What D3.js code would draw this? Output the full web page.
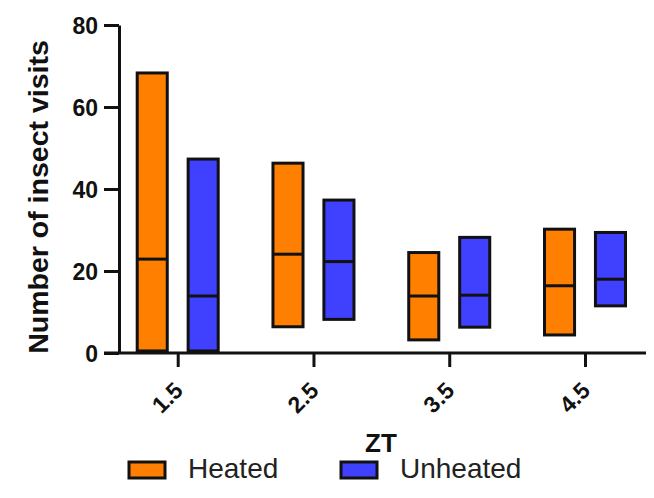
<!DOCTYPE html>
<html>
<head>
<meta charset="utf-8">
<script src="https://cdn.jsdelivr.net/npm/d3@7"></script>
<style>
  html, body { margin: 0; padding: 0; background: #fff; }
  svg { display: block; }
  text { font-family: "Liberation Sans", Arial, sans-serif; }
</style>
</head>
<body>
<svg id="chart" width="654" height="498"></svg>
<script>
// Floating bars: range (min to max) of insect visits per ZT, with the median marked
const categories = ["1.5", "2.5", "3.5", "4.5"];
const seriesNames = ["Heated", "Unheated"];
const heatedMin = [0.5, 6.4, 3.2, 4.4];
const heatedMax = [68.3, 46.3, 24.5, 30.2];
const heatedMedian = [22.9, 24.1, 13.9, 16.4];
const unheatedMin = [0.5, 8.2, 6.3, 11.5];
const unheatedMax = [47.3, 37.3, 28.2, 29.4];
const unheatedMedian = [13.9, 22.3, 14.1, 18.0];
const yTicks = [0, 20, 40, 60, 80];
const colors = { Heated: "#ff8000", Unheated: "#4040ff" };

const svg = d3.select("#chart");
const axisX = 119, baseY = 353, topY = 25, rightX = 646;

const y = d3.scaleLinear().domain([0, 80]).range([baseY, topY]);
const x = d3.scalePoint().domain(categories).range([177.7, 585]);
const sub = d3.scaleBand().domain(seriesNames).range([-40.5, 40.5]).paddingInner(0.41);

const rows = [];
categories.forEach((c, i) => {
  rows.push({ cat: c, series: "Heated", lo: heatedMin[i], hi: heatedMax[i], mid: heatedMedian[i] });
  rows.push({ cat: c, series: "Unheated", lo: unheatedMin[i], hi: unheatedMax[i], mid: unheatedMedian[i] });
});

// bars
const g = svg.append("g");
g.selectAll("rect.bar").data(rows).join("rect")
  .attr("class", "bar")
  .attr("x", d => x(d.cat) + sub(d.series))
  .attr("width", sub.bandwidth())
  .attr("y", d => y(d.hi))
  .attr("height", d => y(d.lo) - y(d.hi))
  .attr("fill", d => colors[d.series])
  .attr("stroke", "#111")
  .attr("stroke-width", 3);

g.selectAll("line.mid").data(rows).join("line")
  .attr("class", "mid")
  .attr("x1", d => x(d.cat) + sub(d.series))
  .attr("x2", d => x(d.cat) + sub(d.series) + sub.bandwidth())
  .attr("y1", d => y(d.mid))
  .attr("y2", d => y(d.mid))
  .attr("stroke", "#111")
  .attr("stroke-width", 3);

// y axis
const yAxis = svg.append("g")
  .attr("transform", `translate(${axisX},0)`)
  .call(d3.axisLeft(y).tickValues(yTicks).tickSize(15).tickSizeOuter(0).tickPadding(6));
yAxis.select(".domain").attr("stroke", "#111").attr("stroke-width", 3);
yAxis.selectAll(".tick line").attr("stroke", "#111").attr("stroke-width", 3);
yAxis.selectAll(".tick text")
  .attr("font-size", 23).attr("font-weight", "bold").attr("fill", "#111")
  .attr("dy", "0.36em");

// x axis
const xAxis = svg.append("g")
  .attr("transform", `translate(0,${baseY})`)
  .call(d3.axisBottom(x).tickSize(14).tickSizeOuter(0));
xAxis.select(".domain").remove();
xAxis.append("line")
  .attr("x1", axisX - 15).attr("x2", rightX)
  .attr("stroke", "#111").attr("stroke-width", 3);
xAxis.selectAll(".tick line").attr("stroke", "#111").attr("stroke-width", 3);
xAxis.selectAll(".tick text")
  .attr("font-size", 23).attr("font-weight", "bold").attr("fill", "#111")
  .attr("y", 0).attr("dy", 0)
  .attr("text-anchor", "end")
  .attr("transform", "translate(6,39) rotate(-45)");

// axis titles
svg.append("text")
  .attr("transform", `translate(48,197) rotate(-90)`)
  .attr("text-anchor", "middle")
  .attr("font-size", 28.5).attr("font-weight", "bold").attr("fill", "#111")
  .text("Number of insect visits");

svg.append("text")
  .attr("x", 381).attr("y", 452)
  .attr("text-anchor", "middle")
  .attr("font-size", 26).attr("font-weight", "bold").attr("fill", "#111")
  .text("ZT");

// legend
const legendX = [129, 341];
const leg = svg.selectAll("g.leg").data(seriesNames).join("g")
  .attr("class", "leg")
  .attr("transform", (d, i) => `translate(${legendX[i]},462)`);
leg.append("rect")
  .attr("width", 36).attr("height", 16)
  .attr("fill", d => colors[d])
  .attr("stroke", "#111").attr("stroke-width", 3);
leg.append("text")
  .attr("x", 59).attr("y", 16)
  .attr("font-size", 28).attr("fill", "#222")
  .text(d => d);
</script>
</body>
</html>
